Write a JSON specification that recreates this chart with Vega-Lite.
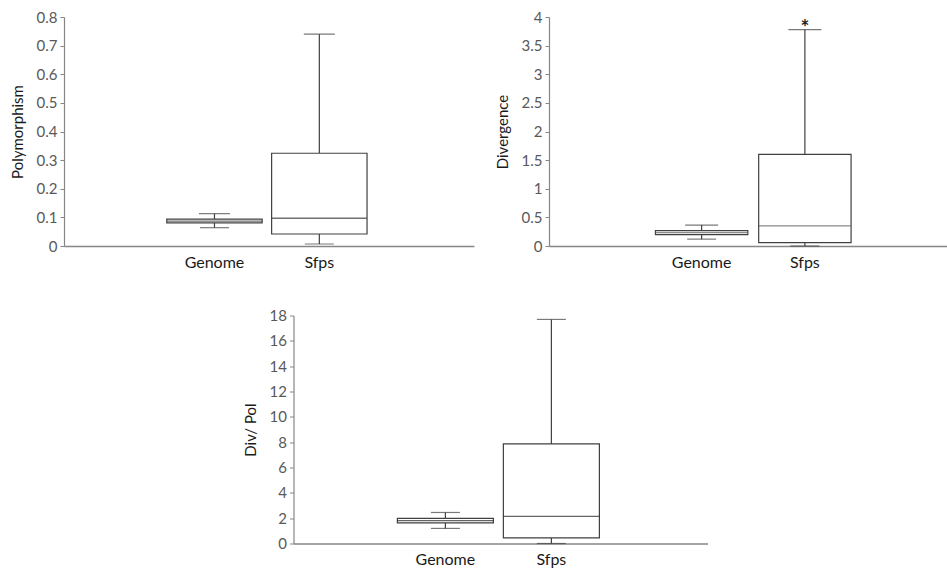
{
  "$schema": "https://vega.github.io/schema/vega-lite/v6.json",
  "background": "white",
  "padding": {"left": 10, "top": 10, "right": 0, "bottom": 0},
  "spacing": 38.5,
  "center": true,
  "datasets": {
    "pol": [
      {"group": "Genome", "min": 0.064, "q1": 0.081, "median": 0.087, "q3": 0.094, "max": 0.113},
      {"group": "Sfps", "min": 0.007, "q1": 0.042, "median": 0.097, "q3": 0.324, "max": 0.74}
    ],
    "div": [
      {"group": "Genome", "min": 0.12, "q1": 0.2, "median": 0.235, "q3": 0.27, "max": 0.366, "sig": ""},
      {"group": "Sfps", "min": 0.0, "q1": 0.058, "median": 0.35, "q3": 1.6, "max": 3.78, "sig": "*"}
    ],
    "ratio": [
      {"group": "Genome", "min": 1.19, "q1": 1.63, "median": 1.8, "q3": 1.98, "max": 2.45},
      {"group": "Sfps", "min": 0.0, "q1": 0.44, "median": 2.14, "q3": 7.86, "max": 17.69}
    ],
    "none": []
  },
  "vconcat": [
    {
      "spacing": 21,
      "hconcat": [
        {
          "width": 410, "height": 229,
          "data": {"name": "pol"},
          "encoding": {
            "x": {"field": "group", "type": "nominal", "sort": null, "title": null,
              "scale": {"domain": ["Genome", "Sfps"], "paddingInner": 0.09, "paddingOuter": 1.0, "align": 0.49}},
            "y": {"type": "quantitative", "title": "Polymorphism",
              "scale": {"domain": [0, 0.8], "nice": false},
              "axis": {"values": [0, 0.1, 0.2, 0.3, 0.4, 0.5, 0.6, 0.7, 0.8], "format": "~g"}}
          },
          "layer": [
            {"mark": {"type": "rule", "color": "#404040", "strokeWidth": 1.2}, "encoding": {"y": {"field": "min"}, "y2": {"field": "q1"}}},
            {"mark": {"type": "rule", "color": "#404040", "strokeWidth": 1.2}, "encoding": {"y": {"field": "q3"}, "y2": {"field": "max"}}},
            {"mark": {"type": "tick", "color": "#404040", "size": 29, "thickness": 1.2}, "encoding": {"y": {"field": "min"}}},
            {"mark": {"type": "tick", "color": "#404040", "size": 31, "thickness": 1.2}, "encoding": {"y": {"field": "max"}}},
            {"mark": {"type": "bar", "fill": "white", "stroke": "#404040", "strokeWidth": 1.2}, "encoding": {"y": {"field": "q1"}, "y2": {"field": "q3"}}},
            {"mark": {"type": "tick", "color": "#333333", "size": 95, "thickness": 1.3}, "encoding": {"y": {"field": "median"}}}
          ]
        },
        {
          "width": 398, "height": 229,
          "data": {"name": "div"},
          "encoding": {
            "x": {"field": "group", "type": "nominal", "sort": null, "title": null,
              "scale": {"domain": ["Genome", "Sfps"], "paddingInner": 0.105, "paddingOuter": 0.98, "align": 0.526}},
            "y": {"type": "quantitative", "title": "Divergence",
              "scale": {"domain": [0, 4], "nice": false},
              "axis": {"values": [0, 0.5, 1, 1.5, 2, 2.5, 3, 3.5, 4], "format": "~g"}}
          },
          "layer": [
            {"mark": {"type": "rule", "color": "#404040", "strokeWidth": 1.2}, "encoding": {"y": {"field": "min"}, "y2": {"field": "q1"}}},
            {"mark": {"type": "rule", "color": "#404040", "strokeWidth": 1.2}, "encoding": {"y": {"field": "q3"}, "y2": {"field": "max"}}},
            {"mark": {"type": "tick", "color": "#404040", "size": 29, "thickness": 1.2}, "encoding": {"y": {"field": "min"}}},
            {"mark": {"type": "tick", "color": "#404040", "size": 33, "thickness": 1.2}, "encoding": {"y": {"field": "max"}}},
            {"mark": {"type": "bar", "fill": "white", "stroke": "#404040", "strokeWidth": 1.2}, "encoding": {"y": {"field": "q1"}, "y2": {"field": "q3"}}},
            {"mark": {"type": "tick", "color": "#595959", "size": 92, "thickness": 1.2}, "encoding": {"y": {"field": "median"}}},
            {"mark": {"type": "text", "fontSize": 21, "font": "Lato", "fontWeight": "bold", "color": "#222", "dy": 5, "baseline": "alphabetic"}, "encoding": {"y": {"field": "max"}, "text": {"field": "sig"}}}
          ]
        }
      ]
    },
    {
      "spacing": 0,
      "hconcat": [
        {
          "width": 414, "height": 228,
          "data": {"name": "ratio"},
          "encoding": {
            "x": {"field": "group", "type": "nominal", "sort": null, "title": null,
              "scale": {"domain": ["Genome", "Sfps"], "paddingInner": 0.094, "paddingOuter": 1.0, "align": 0.49}},
            "y": {"type": "quantitative", "title": "Div/ Pol",
              "scale": {"domain": [0, 18], "nice": false},
              "axis": {"values": [0, 2, 4, 6, 8, 10, 12, 14, 16, 18]}}
          },
          "layer": [
            {"mark": {"type": "rule", "color": "#404040", "strokeWidth": 1.2}, "encoding": {"y": {"field": "min"}, "y2": {"field": "q1"}}},
            {"mark": {"type": "rule", "color": "#404040", "strokeWidth": 1.2}, "encoding": {"y": {"field": "q3"}, "y2": {"field": "max"}}},
            {"mark": {"type": "tick", "color": "#404040", "size": 29, "thickness": 1.2}, "encoding": {"y": {"field": "min"}}},
            {"mark": {"type": "tick", "color": "#404040", "size": 29, "thickness": 1.2}, "encoding": {"y": {"field": "max"}}},
            {"mark": {"type": "bar", "fill": "white", "stroke": "#404040", "strokeWidth": 1.2}, "encoding": {"y": {"field": "q1"}, "y2": {"field": "q3"}}},
            {"mark": {"type": "tick", "color": "#222222", "size": 96, "thickness": 1.3}, "encoding": {"y": {"field": "median"}}}
          ]
        },
        {
          "width": 10, "height": 228,
          "data": {"name": "none"},
          "mark": "point",
          "encoding": {}
        }
      ]
    }
  ],
  "config": {
    "font": "Lato",
    "view": {"stroke": null},
    "axisX": {"domainColor": "#868686", "domainWidth": 1.5, "ticks": false, "labelAngle": 0, "labelFontSize": 16, "labelColor": "#1a1a1a", "labelPadding": 8, "labelFont": "Lato"},
    "axisY": {"domainColor": "#868686", "domainWidth": 1.2, "tickColor": "#868686", "tickSize": 4, "grid": false, "labelFontSize": 15, "labelColor": "#595959", "labelPadding": 3, "labelFont": "Lato", "titleFontSize": 15, "titleFontWeight": "normal", "titleColor": "#1a1a1a", "titlePadding": 11, "titleFont": "Lato"}
  }
}
